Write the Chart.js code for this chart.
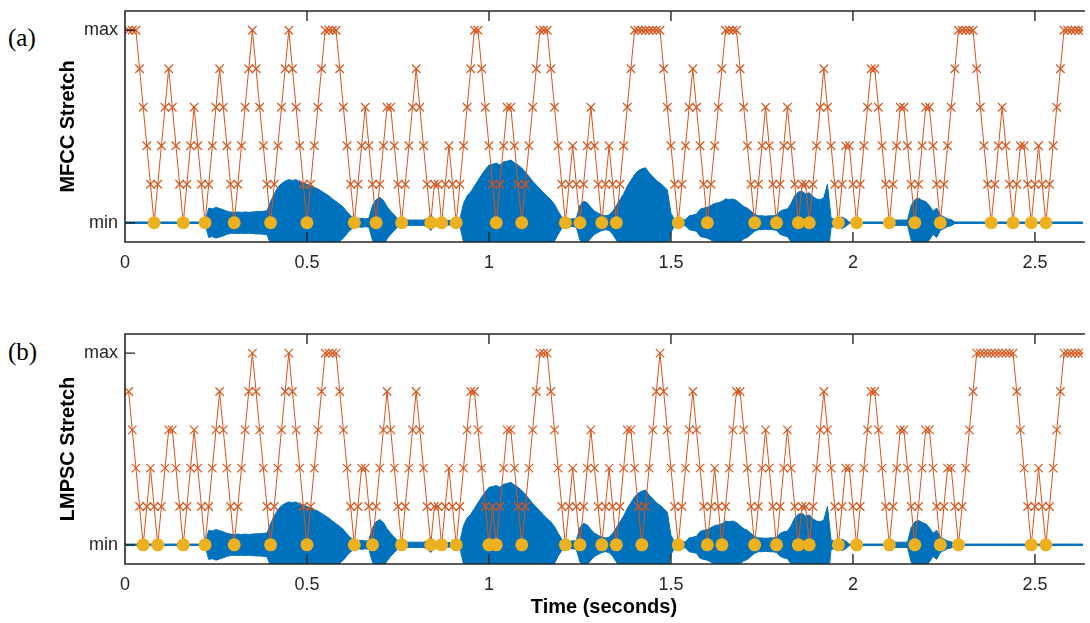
<!DOCTYPE html>
<html>
<head>
<meta charset="utf-8">
<script src="https://cdn.jsdelivr.net/npm/chart.js@4.4.0/dist/chart.umd.min.js"></script>
<style>
  body { margin: 0; background: #fff; width: 1090px; height: 623px; overflow: hidden; position: relative; }
  canvas { position: absolute; left: 0; }
  #chartA { top: 0; }
  #chartB { top: 323px; }
  .tag { position: absolute; left: 8px; font-family: "Liberation Serif", "Times New Roman", serif; font-size: 25px; color: #000; }
</style>
</head>
<body>
<div class="tag" style="top:24px">(a)</div>
<div class="tag" style="top:338px">(b)</div>
<canvas id="chartA" width="1090" height="285"></canvas>
<canvas id="chartB" width="1090" height="300"></canvas>
<script>
// analysis frames are 10 ms apart, the first stretch value sits at 0.01 s
const hop = 0.01;
const xTicks = [0, 0.5, 1, 1.5, 2, 2.5];

// stretch level per frame (0 = min ... 5 = max), MFCC based
const mfccStretch = [
  5,5,5,4,3,2,1,0,
  1,2,3,4,3,2,1,0,
  1,2,3,2,1,0,
  1,2,3,4,3,2,1,0,
  1,2,3,4,5,4,3,2,1,0,
  1,2,3,4,5,4,3,2,1,0,
  1,2,3,4,5,5,5,5,4,3,2,1,0,
  1,2,3,2,1,0,
  1,2,3,3,2,1,0,
  1,2,3,4,3,2,1,0,
  1,1,0,
  1,2,1,0,
  1,2,3,4,5,5,4,3,2,1,0,
  1,2,3,3,2,1,0,
  1,2,3,4,5,5,5,4,3,2,1,0,
  1,2,1,0,
  1,2,3,2,1,0,
  1,2,1,0,
  1,2,3,4,5,5,5,5,5,5,5,5,4,3,2,1,0,
  1,2,3,4,3,2,1,0,
  1,2,3,4,5,5,5,5,4,3,2,1,0,
  1,2,3,2,1,0,
  1,2,3,2,1,0,
  1,1,0,
  1,2,3,4,3,2,1,0,
  1,2,2,1,0,
  1,2,3,4,4,3,2,1,0,
  1,2,3,3,2,1,0,
  1,2,3,3,2,1,0,
  1,2,3,4,5,5,5,5,5,4,3,2,1,0,
  1,2,3,2,1,0,
  1,2,2,1,0,
  1,2,1,0,
  1,2,3,4,5,5,5,5,5,5
];

// stretch level per frame, LMPSC based
const lmpscStretch = [
  4,3,2,1,0,
  1,2,1,0,
  1,2,3,3,2,1,0,
  1,2,3,2,1,0,
  1,2,3,4,3,2,1,0,
  1,2,3,4,5,4,3,2,1,0,
  1,2,3,4,5,4,3,2,1,0,
  1,2,3,4,5,5,5,5,4,3,2,1,0,
  1,2,2,1,0,
  1,2,3,4,3,2,1,0,
  1,2,3,4,3,2,1,0,
  1,1,0,
  1,2,1,0,
  1,2,3,4,4,3,2,1,0,
  1,0,
  1,2,3,3,2,1,0,
  1,2,3,4,5,5,5,4,3,2,1,0,
  1,2,1,0,
  1,2,3,2,1,0,
  1,2,1,0,
  1,2,3,3,2,1,0,
  1,2,3,4,5,4,3,2,1,0,
  1,2,3,4,3,2,1,0,
  1,2,1,0,
  1,2,3,4,4,3,2,1,0,
  1,2,3,2,1,0,
  1,2,3,2,1,0,
  1,1,0,
  1,2,3,4,3,2,1,0,
  1,2,2,1,0,
  1,2,3,4,4,3,2,1,0,
  1,2,3,3,2,1,0,
  1,2,3,3,2,1,0,
  1,2,2,1,0,
  1,2,3,4,5,5,5,5,5,5,5,5,5,5,5,4,3,2,1,0,
  1,2,1,0,
  1,2,3,4,5,5,5,5,5,5
];

// speech waveform envelope (peak amplitude in level units), one value per 10 ms from t = 0
const waveEnvelope = [
  0.02,0.02,0.02,0.02,0.02,0.02,0.02,0.02,0.02,0.02,0.02,0.02,0.02,0.02,0.02,0.02,0.02,0.02,0.02,0.02,0.02,0.02,
  0.03,
  0.38,0.36,0.40,0.37,0.34,0.30,0.28,0.27,0.28,0.27,0.28,0.27,0.28,0.29,0.29,0.30,0.31,
  0.55,0.75,0.92,1.02,1.08,1.12,1.10,1.12,1.06,1.04,1.00,0.96,0.92,0.88,0.82,0.76,0.70,0.62,0.55,0.48,0.40,0.28,0.18,
  0.12,0.10,0.12,0.10,0.12,
  0.45,0.60,0.66,0.58,0.42,0.30,0.20,0.10,
  0.07,0.07,0.07,0.07,0.07,0.07,0.07,
  0.10,0.20,0.10,
  0.06,0.06,0.06,0.06,0.06,0.06,
  0.08,
  0.50,0.70,0.80,0.95,1.10,1.25,1.38,1.50,1.52,1.55,1.50,1.58,1.60,1.63,1.56,1.50,1.42,1.32,1.20,1.08,0.98,0.88,0.78,0.68,0.60,0.48,0.30,0.15,
  0.10,0.10,0.10,0.12,
  0.45,0.56,0.52,0.40,0.30,0.25,0.20,0.18,0.20,
  0.30,0.45,0.60,0.75,0.95,1.10,1.25,1.35,1.40,1.43,1.30,1.20,1.10,1.03,0.95,0.85,0.25,
  0.08,0.08,0.08,0.08,
  0.18,0.20,0.22,
  0.35,0.38,0.40,0.45,0.50,0.52,0.55,0.62,0.60,0.62,0.58,0.50,0.42,0.38,0.30,0.22,0.18,0.18,0.17,0.18,0.18,0.20,
  0.30,0.34,0.36,0.50,0.70,0.80,0.82,0.75,0.78,0.68,0.62,0.60,0.65,1.00,
  0.12,0.10,0.12,0.15,0.10,
  0.02,0.02,0.02,0.02,0.02,0.02,0.02,0.02,0.02,0.02,0.02,0.02,
  0.07,0.07,0.07,0.07,0.07,
  0.45,0.60,0.64,0.58,0.55,0.45,0.30,0.38,0.20,0.15,0.10,0.08,
  0.02,0.02,0.02,0.02,0.02,0.02,0.02,0.02,0.02,0.02,0.02,0.02,0.02,0.02,0.02,0.02,0.02,0.02,0.02,
  0.02,0.02,0.02,0.02,0.02,0.02,0.02,0.02,0.02,0.02,0.02,0.02,0.02,0.02,0.02,0.02,0.02,0.02
];

const BLUE = "#0072BD";
const ORANGE = "#D95319";
const YELLOW = "#EDB120";
const AXIS = "#262626";
const FONT = "'Liberation Sans', Arial, Helvetica, sans-serif";

// MATLAB-like box: left/top/bottom lines and inward ticks
const boxPlugin = {
  id: "box",
  afterDraw(chart) {
    const { ctx, chartArea: a, scales } = chart;
    ctx.save();
    ctx.strokeStyle = AXIS;
    ctx.lineWidth = 1.6;
    ctx.beginPath();
    ctx.moveTo(a.right + 2, a.top);
    ctx.lineTo(a.left, a.top);
    ctx.lineTo(a.left, a.bottom);
    ctx.lineTo(a.right + 2, a.bottom);
    ctx.stroke();
    ctx.lineWidth = 1.4;
    ctx.beginPath();
    xTicks.forEach(v => {
      if (v === 0) return;
      const px = scales.x.getPixelForValue(v);
      ctx.moveTo(px, a.bottom); ctx.lineTo(px, a.bottom - 10);
      ctx.moveTo(px, a.top); ctx.lineTo(px, a.top + 10);
    });
    [0, 5].forEach(v => {
      const py = scales.y.getPixelForValue(v);
      ctx.moveTo(a.left, py); ctx.lineTo(a.left + 10, py);
    });
    ctx.stroke();
    ctx.restore();
  }
};

function makeChart(id, stretch, yTitle, xTitle, xHeight) {
  const stretchPts = stretch.map((v, i) => ({ x: (i + 1) * hop, y: v }));
  const minPts = stretchPts.filter(p => p.y === 0);
  const upper = waveEnvelope.map((v, i) => ({ x: i * hop, y: v }));
  const lower = waveEnvelope.map((v, i) => ({ x: i * hop, y: -v }));

  return new Chart(document.getElementById(id), {
    type: "line",
    data: {
      datasets: [
        {
          data: minPts, showLine: false,
          pointRadius: 6.5, pointBackgroundColor: YELLOW, pointBorderColor: YELLOW, pointBorderWidth: 0
        },
        {
          data: stretchPts, borderColor: ORANGE, borderWidth: 1, tension: 0,
          pointStyle: "crossRot", pointRadius: 6, pointBorderColor: ORANGE, pointBorderWidth: 1.1
        },
        {
          data: upper, borderColor: BLUE, borderWidth: 1, pointRadius: 0, tension: 0, fill: false, clip: 0
        },
        {
          data: lower, borderColor: BLUE, borderWidth: 1, pointRadius: 0, tension: 0,
          fill: "-1", backgroundColor: BLUE, clip: 0
        }
      ]
    },
    options: {
      responsive: false,
      animation: false,
      events: [],
      devicePixelRatio: 1,
      layout: { padding: { top: 11, left: 0, right: 0, bottom: 0 } },
      plugins: { legend: { display: false }, tooltip: { enabled: false } },
      scales: {
        x: {
          type: "linear", min: 0, max: 2.6318,
          grid: { display: false, drawTicks: false }, border: { display: false },
          afterBuildTicks: s => { s.ticks = xTicks.map(v => ({ value: v })); },
          afterFit: s => { s.height = xHeight; s.paddingLeft = 0; s.paddingRight = 0; },
          ticks: { color: AXIS, padding: 10, maxRotation: 0, font: { family: FONT, size: 18 }, callback: v => String(v) },
          title: {
            display: !!xTitle, text: xTitle, color: "#000",
            font: { family: FONT, size: 20, weight: "bold" }, padding: { top: 0, bottom: 4 }
          }
        },
        y: {
          type: "linear", min: -0.5, max: 5.5,
          grid: { display: false, drawTicks: false }, border: { display: false },
          afterBuildTicks: s => { s.ticks = [{ value: 0 }, { value: 5 }]; },
          afterFit: s => { s.width = 125; s.paddingTop = 0; s.paddingBottom = 0; },
          ticks: { color: AXIS, padding: 7, font: { family: FONT, size: 18 }, callback: v => (v === 5 ? "max" : "min") },
          title: {
            display: true, text: yTitle, color: "#000",
            font: { family: FONT, size: 20, weight: "bold" }, padding: { top: 56, bottom: 0 }
          }
        }
      }
    },
    plugins: [boxPlugin]
  });
}

makeChart("chartA", mfccStretch, "MFCC Stretch", "", 43);
makeChart("chartB", lmpscStretch, "LMPSC Stretch", "Time (seconds)", 59);
</script>
</body>
</html>
